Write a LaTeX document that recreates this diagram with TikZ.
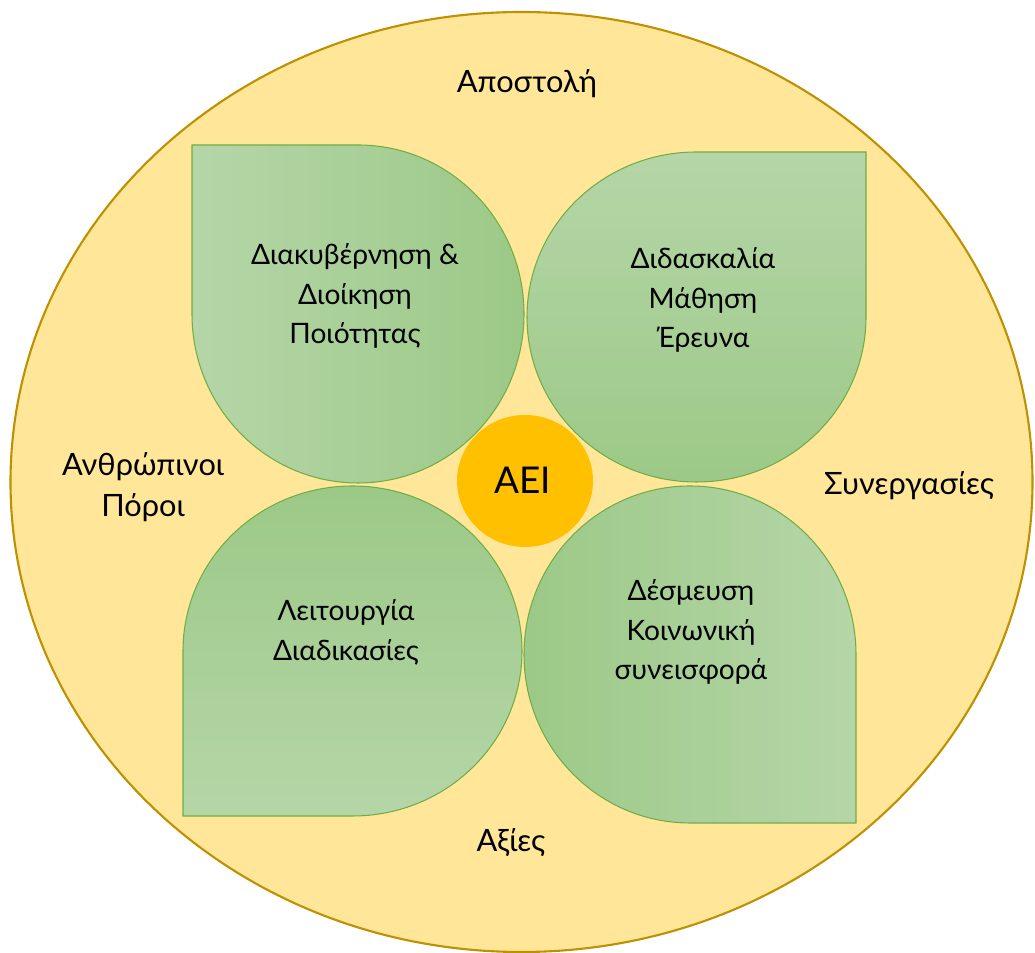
\documentclass[tikz,border=0pt]{standalone}
\usepackage{fontspec}
\setmainfont{Lato}
\definecolor{ringfill}{HTML}{FFE699}
\definecolor{ringline}{HTML}{BF9000}
\definecolor{coregold}{HTML}{FFC000}
\definecolor{leaflight}{HTML}{B5D6A8}
\definecolor{leafdark}{HTML}{9CC987}
\definecolor{leafline}{HTML}{70AD47}
\tikzset{
  ring/.style={fill=ringfill, draw=ringline, line width=1.2pt},
  leaf/.style={draw=leafline, line width=0.6pt},
  core/.style={fill=coregold},
  outer/.style={font=\fontsize{17.5}{23.2}\selectfont, align=center, inner sep=0pt},
  inner/.style={font=\fontsize{16}{22.7}\selectfont, align=center, inner sep=0pt},
}
\begin{document}
\begin{tikzpicture}[x=0.02cm, y=0.02cm]
      \useasboundingbox (0,0) rectangle (1035,953);
      \draw[ring] (521.5,471) ellipse [x radius=511, y radius=470];
      % four leaves, sharp corner outwards
      \draw[leaf, left color=leaflight, right color=leafdark]
        (192,808) -- (358,808) arc[start angle=90, end angle=-180, x radius=166, y radius=169] -- cycle;
      \draw[leaf, top color=leaflight, bottom color=leafdark]
        (866,801) -- (866,636) arc[start angle=0, end angle=-270, x radius=169.5, y radius=165] -- cycle;
      \draw[leaf, top color=leafdark, bottom color=leaflight]
        (183,137) -- (183,302) arc[start angle=180, end angle=-90, x radius=169.5, y radius=165] -- cycle;
      \draw[leaf, left color=leafdark, right color=leaflight]
        (856,130) -- (690,130) arc[start angle=-90, end angle=-360, x radius=166, y radius=168.5] -- cycle;
      \fill[core] (525,472) ellipse [x radius=68, y radius=66];
      \path
        (527,860) node[outer, anchor=base] (mission){Αποστολή}
        (143,466) node[outer] (people){Ανθρώπινοι\\Πόροι}
        (909,458) node[outer, anchor=base] (partners){Συνεργασίες}
        (511,101) node[outer, anchor=base] (values){Αξίες}
        (523,459) node[outer, anchor=base, font=\fontsize{21}{25}\selectfont] (aei){ΑΕΙ}
        (355,657) node[inner] (govern){Διακυβέρνηση \&\\Διοίκηση\\Ποιότητας}
        (703,653) node[inner] (teach){Διδασκαλία\\Μάθηση\\Έρευνα}
        (346,321) node[inner] (operate){Λειτουργία\\Διαδικασίες}
        (691,321) node[inner] (engage){Δέσμευση\\Κοινωνική\\συνεισφορά};
    \end{tikzpicture}
\end{document}
